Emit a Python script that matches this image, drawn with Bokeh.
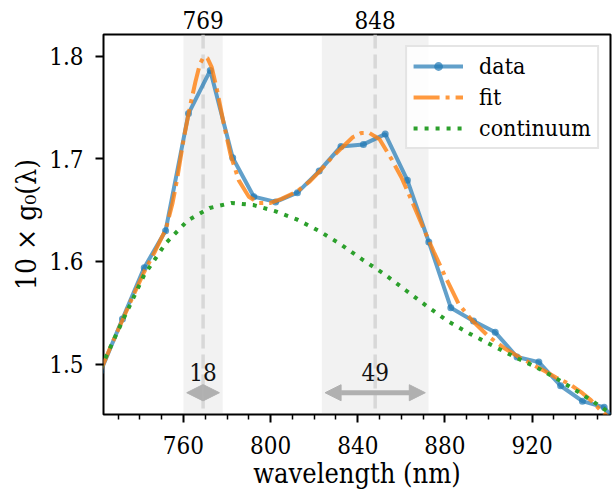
from bokeh.plotting import figure
from bokeh.models import (LinearAxis, FixedTicker, Range1d, BoxAnnotation, Span,
                          Arrow, NormalHead, ColumnDataSource)
from bokeh.embed import file_html
from bokeh.resources import INLINE
from bokeh.core.properties import value

# ---------------- data ----------------
wavelength = [722.0, 732.0, 742.0, 751.8, 762.3, 772.3, 782.6, 792.3, 802.3, 812.3,
              822.3, 832.3, 842.6, 852.6, 862.8, 872.6, 882.7, 893.1, 903.1, 913.1,
              923.1, 933.1, 943.1, 953.1, 963.2]
g0_data = [1.493, 1.544, 1.594, 1.630, 1.744, 1.786, 1.701, 1.663, 1.658, 1.667,
           1.688, 1.712, 1.714, 1.724, 1.679, 1.619, 1.555, 1.542, 1.531, 1.507,
           1.502, 1.479, 1.464, 1.458, 1.430]

fit_wavelength = [722, 727, 732, 737, 742, 747, 752, 755, 757, 760, 763, 765.5, 767.5,
                  769.2, 771, 773, 775.4, 778.5, 781.6, 785.4, 790, 794.6, 800, 805,
                  812, 818, 823, 828, 832.3, 837.7, 841.5, 845.4, 850, 855.4, 860, 865,
                  870, 875, 880, 886.2, 892.3, 900, 907.7, 914, 920, 926, 931, 937, 943,
                  947, 951.5, 957, 962]
fit_g0 = [1.494, 1.519, 1.543, 1.567, 1.590, 1.610, 1.632, 1.657, 1.679, 1.718, 1.751,
          1.775, 1.792, 1.799, 1.798, 1.789, 1.767, 1.734, 1.704, 1.679, 1.663, 1.657,
          1.657, 1.661, 1.668, 1.678, 1.689, 1.701, 1.710, 1.721, 1.725, 1.725, 1.719,
          1.700, 1.682, 1.658, 1.633, 1.609, 1.586, 1.559, 1.543, 1.527, 1.515, 1.507,
          1.500, 1.493, 1.487, 1.481, 1.472, 1.465, 1.455, 1.445, 1.436]

cont_wavelength = [722, 732, 742, 752, 762, 772, 782, 792, 802, 812, 822, 832, 842, 852,
                   862, 872, 882, 892, 902, 912, 922, 932, 942, 952, 962]
cont_g0 = [1.496, 1.542, 1.587, 1.618, 1.640, 1.652, 1.657, 1.655, 1.649, 1.641, 1.630,
           1.617, 1.602, 1.588, 1.572, 1.556, 1.541, 1.529, 1.518, 1.507, 1.497, 1.485,
           1.472, 1.458, 1.442]

peak_centers = [769, 848]
peak_widths = [18, 49]

x_ticks = [760, 800, 840, 880, 920]
x_minor_ticks = [730, 740, 750, 770, 780, 790, 810, 820, 830, 850, 860, 870, 890, 900,
                 910, 930, 940, 950]
y_ticks = [1.5, 1.6, 1.7, 1.8]

FONT = "DejaVu Serif Condensed"
BLUE = "#1f77b4"
ORANGE = "#ff7f0e"
GREEN = "#2ca02c"

p = figure(width=615, height=497, output_backend="svg", toolbar_location=None,
           x_range=Range1d(723.3, 956.0), y_range=Range1d(1.451, 1.821),
           x_axis_label="wavelength (nm)", y_axis_label="10 × g₀(λ)",
           min_border_left=103, min_border_right=5, min_border_top=34,
           min_border_bottom=83)

p.grid.visible = False
p.outline_line_color = "black"
p.outline_line_width = 2
p.background_fill_color = "white"
p.border_fill_color = "white"

for c, w in zip(peak_centers, peak_widths):
    p.add_layout(BoxAnnotation(left=c - w / 2, right=c + w / 2, fill_color="#808080",
                               fill_alpha=0.1, line_color=None, level="underlay"))
    p.add_layout(Span(location=c, dimension="height", line_color="#d3d3d3",
                      line_alpha=0.85, line_dash="14 6", line_width=3.5,
                      level="underlay"))

p.line(wavelength, g0_data, line_color=BLUE, line_alpha=0.7, line_width=4,
       legend_label="data")
p.scatter(wavelength, g0_data, size=7, fill_color=BLUE, line_color=None,
          fill_alpha=0.7, legend_label="data")
p.line(fit_wavelength, fit_g0, line_color=ORANGE, line_alpha=0.8, line_width=4,
       line_dash="26 6 4 6", legend_label="fit")
p.line(cont_wavelength, cont_g0, line_color=GREEN, line_width=4, line_dash="4 7",
       legend_label="continuum")

arrow_y = 1.4722
label_y = 1.4923
arr_src = ColumnDataSource(dict(
    x0=[c - w / 2 + 1.5 for c, w in zip(peak_centers, peak_widths)],
    x1=[c + w / 2 - 1.5 for c, w in zip(peak_centers, peak_widths)],
    y=[arrow_y] * len(peak_centers)))
ARROW_C = "#b0b0b0"
p.add_layout(Arrow(x_start="x0", x_end="x1", y_start="y", y_end="y", source=arr_src,
                   line_color=ARROW_C, line_width=5,
                   start=NormalHead(size=16, fill_color=ARROW_C, line_color=ARROW_C,
                                    line_width=1),
                   end=NormalHead(size=16, fill_color=ARROW_C, line_color=ARROW_C,
                                  line_width=1)))
p.text(x=peak_centers, y=[label_y] * len(peak_centers),
       text=[str(w) for w in peak_widths], text_font=value(FONT),
       text_font_size="24px", text_align="center", text_baseline="middle",
       text_color="#111111")

def style_axis(ax):
    ax.axis_line_color = None
    ax.major_tick_line_color = "black"
    ax.major_tick_line_width = 2
    ax.minor_tick_line_color = "black"
    ax.minor_tick_line_width = 1.5
    ax.major_label_text_font = FONT
    ax.major_label_text_font_size = "24px"
    ax.major_label_text_color = "black"
    ax.axis_label_text_font = FONT
    ax.axis_label_text_font_size = "27px"
    ax.axis_label_text_font_style = "normal"
    ax.axis_label_text_color = "black"

xa = p.xaxis[0]
xa.ticker = FixedTicker(ticks=x_ticks, minor_ticks=x_minor_ticks)
style_axis(xa)
xa.major_tick_out = 8
xa.major_tick_in = 0
xa.minor_tick_out = 5
xa.minor_tick_in = 0
xa.major_label_standoff = 13
xa.axis_label_standoff = 1

ya = p.yaxis[0]
ya.ticker = FixedTicker(ticks=y_ticks, minor_ticks=[])
style_axis(ya)
ya.axis_label_text_font_size = "28px"
ya.major_tick_out = 8
ya.major_tick_in = 0
ya.major_label_standoff = 12
ya.axis_label_standoff = 3

top = LinearAxis(ticker=FixedTicker(ticks=peak_centers, minor_ticks=[]))
style_axis(top)
top.major_tick_out = 0
top.major_tick_in = 0
top.minor_tick_out = 0
top.major_label_standoff = 6
p.add_layout(top, "above")

lg = p.legend[0]
lg.location = "top_right"
lg.margin = 11
lg.padding = 6
lg.spacing = 5
lg.glyph_width = 50
lg.glyph_height = 22
lg.label_standoff = 16
lg.label_text_font = FONT
lg.label_text_font_size = "23px"
lg.label_text_color = "black"
lg.border_line_color = "#cccccc"
lg.border_line_width = 2
lg.background_fill_color = "white"
lg.background_fill_alpha = 0.85

open("out.html", "w").write(file_html(p, INLINE))
